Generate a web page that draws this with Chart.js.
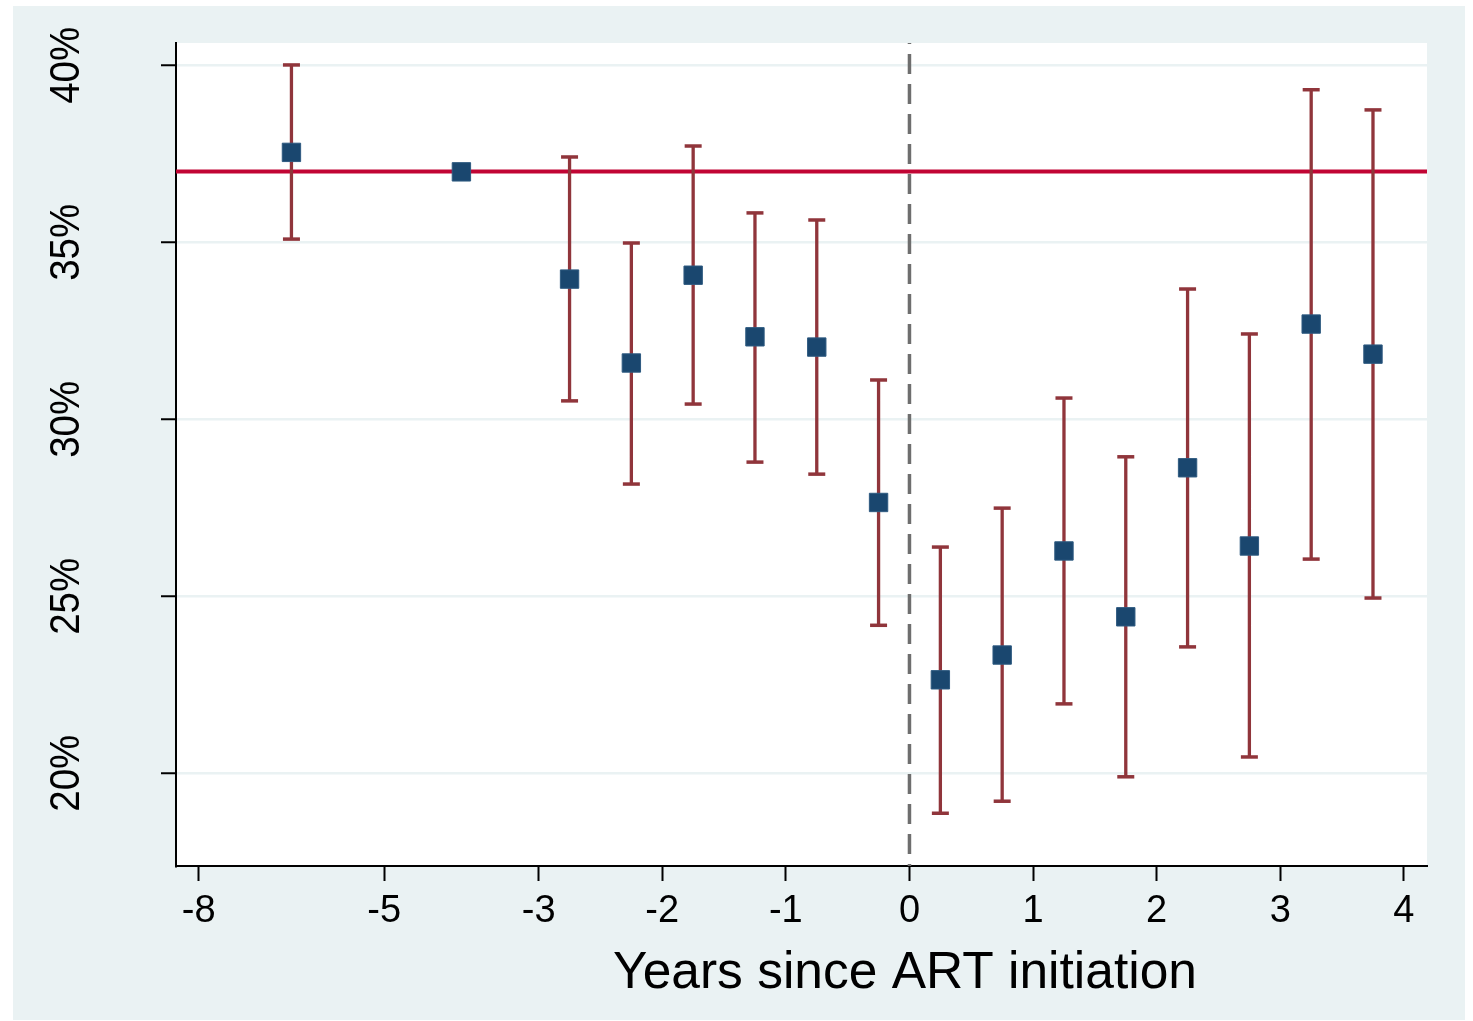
<!DOCTYPE html>
<html>
<head>
<meta charset="utf-8">
<title>Years since ART initiation</title>
<script src="https://cdn.jsdelivr.net/npm/chart.js@4.4.1/dist/chart.umd.min.js"></script>
<style>
    html, body { margin: 0; padding: 0; background: #ffffff; }
    #wrap { width: 1473px; height: 1021px; }
</style>
</head>
<body>
<div id="wrap"><canvas id="chart" width="1473" height="1021"></canvas></div>
<script>
// positions on the x axis (the axis is not linear in years, labels are mapped below)
const xPos = [-5, -3.625, -2.75, -2.25, -1.75, -1.25, -0.75, -0.25, 0.25, 0.75, 1.25, 1.75, 2.25, 2.75, 3.25, 3.75];
const estimate = [37.54, 36.99, 33.96, 31.59, 34.07, 32.33, 32.04, 27.65, 22.64, 23.34, 26.28, 24.42, 28.63, 26.42, 32.69, 31.84];
const ciLow = [35.09, null, 30.52, 28.17, 30.43, 28.79, 28.45, 24.18, 18.87, 19.21, 21.96, 19.90, 23.57, 20.46, 26.05, 24.95];
const ciHigh = [40.01, null, 37.41, 34.98, 37.72, 35.83, 35.63, 31.11, 26.39, 27.49, 30.60, 28.94, 33.68, 32.41, 39.31, 38.74];

const refLevel = 37.0;   // horizontal red line
const eventX = 0;        // dashed vertical line

const xTickPos = [-5.75, -4.25, -3, -2, -1, 0, 1, 2, 3, 4];
const xTickLabels = ['-8', '-5', '-3', '-2', '-1', '0', '1', '2', '3', '4'];
const yTickVals = [20, 25, 30, 35, 40];

const xMin = -5.934, xMax = 4.187;
const yMin = 17.38, yMax = 40.63;

const NAVY = '#1a476f';
const MAROON = '#90353b';
const CRANBERRY = '#c10534';
const BG = '#eaf2f3';
const FONT = '"Liberation Sans", Arial, sans-serif';

// error bars as one line with gaps between the segments
const barData = [];
const capData = [];
xPos.forEach((x, i) => {
    if (ciLow[i] == null) return;
    barData.push({x: x, y: ciLow[i]}, {x: x, y: ciHigh[i]}, {x: x, y: null});
    capData.push({x: x, y: ciLow[i]}, {x: x, y: ciHigh[i]});
});

const backgroundPlugin = {
    id: 'stataBackground',
    beforeDraw(chart) {
        const ctx = chart.ctx;
        const a = chart.chartArea;
        ctx.save();
        ctx.fillStyle = '#ffffff';
        ctx.fillRect(0, 0, chart.width, chart.height);
        ctx.fillStyle = BG;
        ctx.fillRect(13, 6, 1452, 1014);
        ctx.fillStyle = '#ffffff';
        ctx.fillRect(a.left, a.top, a.right - a.left, a.bottom - a.top);
        ctx.restore();
    }
};

const textPlugin = {
    id: 'stataText',
    afterDraw(chart) {
        const ctx = chart.ctx;
        const ys = chart.scales.y;
        ctx.save();
        ctx.fillStyle = '#000000';
        // rotated y tick labels (glyphs a bit taller than wide, like the original)
        ctx.font = '38.5px ' + FONT;
        ctx.textAlign = 'center';
        ctx.textBaseline = 'alphabetic';
        ys.ticks.forEach(t => {
            const py = ys.getPixelForValue(t.value);
            ctx.save();
            ctx.translate(79, py);
            ctx.rotate(-Math.PI / 2);
            ctx.scale(1, 1.1);
            ctx.fillText(t.value + '%', 0, 0);
            ctx.restore();
        });
        // x axis title
        ctx.font = '51.5px ' + FONT;
        ctx.fillText('Years since ART initiation', 905, 988);
        ctx.restore();
    }
};

const ctx = document.getElementById('chart').getContext('2d');
const myChart = new Chart(ctx, {
    type: 'scatter',
    data: {
        datasets: [
            {
                label: 'estimate',
                data: xPos.map((x, i) => ({x: x, y: estimate[i]})),
                pointStyle: 'rect',
                pointRadius: 13,
                pointBackgroundColor: NAVY,
                pointBorderColor: '#2e5a80',
                pointBorderWidth: 1,
                showLine: false
            },
            {
                label: 'caps',
                data: capData,
                pointStyle: 'line',
                pointRadius: 8.5,
                pointBorderColor: MAROON,
                pointBorderWidth: 3.5,
                showLine: false
            },
            {
                label: 'ci',
                type: 'line',
                data: barData,
                borderColor: MAROON,
                borderWidth: 3.3,
                pointRadius: 0,
                spanGaps: false,
                fill: false
            },
            {
                label: 'reference',
                type: 'line',
                data: [{x: xMin, y: refLevel}, {x: xMax, y: refLevel}],
                borderColor: CRANBERRY,
                borderWidth: 4,
                pointRadius: 0,
                fill: false
            },
            {
                label: 'initiation',
                type: 'line',
                data: [{x: eventX, y: yMax}, {x: eventX, y: yMin}],
                borderColor: '#6e6e6e',
                borderWidth: 3.5,
                borderDash: [20, 10],
                borderDashOffset: 19,
                pointRadius: 0,
                fill: false
            }
        ]
    },
    options: {
        responsive: false,
        animation: false,
        devicePixelRatio: 1,
        layout: {padding: {top: 43, right: 46, left: 0, bottom: 0}},
        plugins: {
            legend: {display: false},
            tooltip: {enabled: false}
        },
        scales: {
            x: {
                type: 'linear',
                min: xMin,
                max: xMax,
                afterBuildTicks: scale => {
                    scale.ticks = xTickPos.map(v => ({value: v}));
                },
                afterFit: scale => { scale.height = 155; },
                ticks: {
                    autoSkip: false,
                    maxRotation: 0,
                    padding: 8,
                    color: '#000000',
                    font: {family: FONT, size: 38},
                    callback: (v) => {
                        const i = xTickPos.indexOf(v);
                        return i >= 0 ? xTickLabels[i] : '';
                    }
                },
                grid: {
                    drawOnChartArea: false,
                    tickLength: 15,
                    tickWidth: 2,
                    tickColor: '#000000'
                },
                border: {color: '#000000', width: 2}
            },
            y: {
                type: 'linear',
                min: yMin,
                max: yMax,
                afterBuildTicks: scale => {
                    scale.ticks = yTickVals.map(v => ({value: v}));
                },
                afterFit: scale => { scale.width = 176; },
                ticks: {display: false},
                grid: {
                    color: BG,
                    lineWidth: 2.5,
                    tickLength: 15,
                    tickWidth: 2,
                    tickColor: '#000000'
                },
                border: {color: '#000000', width: 2}
            }
        }
    },
    plugins: [backgroundPlugin, textPlugin]
});
</script>
</body>
</html>
